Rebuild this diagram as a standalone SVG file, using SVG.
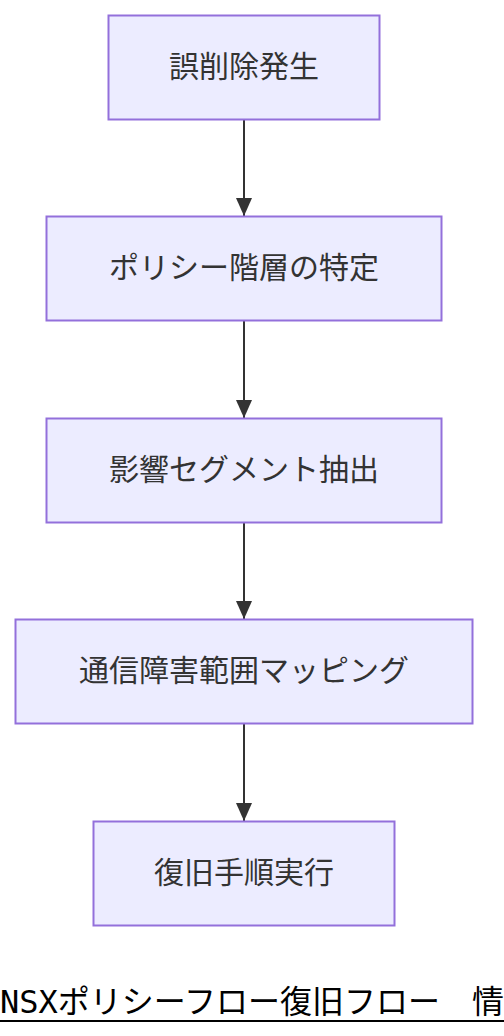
<svg xmlns="http://www.w3.org/2000/svg" width="504" height="1036" viewBox="0 0 504 1036">
<style>
.node rect{fill:#ECECFF;stroke:#9370DB;stroke-width:2}
.node text{font-family:"Noto Sans CJK JP","Noto Sans",sans-serif;font-size:30px;fill:#333;text-anchor:middle;dominant-baseline:central}
.edge{stroke:#333;stroke-width:2;fill:none}
.title{font-family:"DejaVu Sans Mono","Noto Sans CJK JP",monospace;font-size:32px;fill:#000}
</style>
<defs>
<marker id="arrow" markerWidth="18" markerHeight="16" refX="18" refY="8" orient="auto" markerUnits="userSpaceOnUse" viewBox="0 0 18 16">
<path d="M0,0 L18,8 L0,16 z" fill="#333"/>
</marker>
</defs>
<rect width="504" height="1036" fill="#fff"/>
<g id="edges">
<path class="edge" d="M244,120 L244,216" marker-end="url(#arrow)"/>
<path class="edge" d="M244,321 L244,418" marker-end="url(#arrow)"/>
<path class="edge" d="M244,522 L244,619" marker-end="url(#arrow)"/>
<path class="edge" d="M244,724 L244,821" marker-end="url(#arrow)"/>
</g>
<g id="n1" class="node"><rect x="108.5" y="15.5" width="271" height="104"/><text x="244" y="64">誤削除発生</text></g>
<g id="n2" class="node"><rect x="46.5" y="216.5" width="395" height="104"/><text x="244" y="265">ポリシー階層の特定</text></g>
<g id="n3" class="node"><rect x="46.5" y="418.5" width="395" height="104"/><text x="244" y="467">影響セグメント抽出</text></g>
<g id="n4" class="node"><rect x="15.5" y="619.5" width="457" height="104"/><text x="244" y="668">通信障害範囲マッピング</text></g>
<g id="n5" class="node"><rect x="93.5" y="821.5" width="301" height="104"/><text x="244" y="870">復旧手順実行</text></g>
<g id="caption">
<text class="title" x="0" y="1013">NSXポリシーフロー復旧フロー　情報</text>
<line x1="0" y1="1021" x2="504" y2="1021" stroke="#000" stroke-width="2"/>
</g>
</svg>
